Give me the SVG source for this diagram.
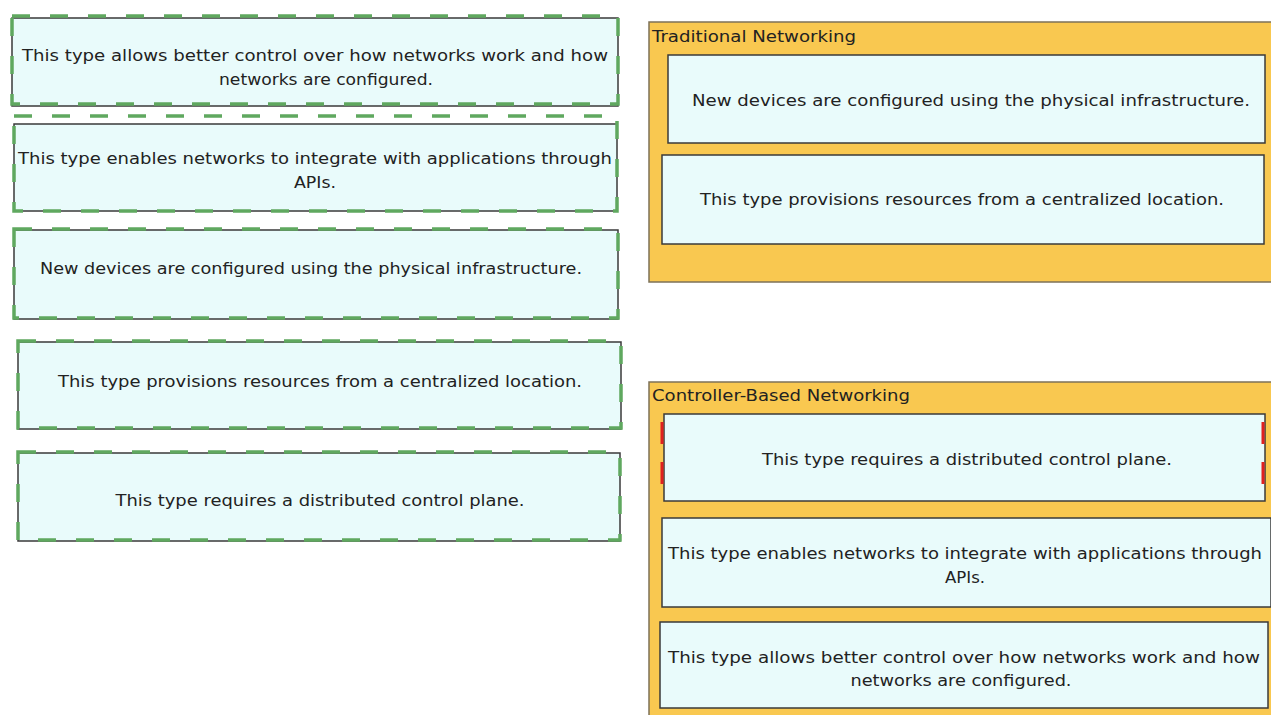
<svg xmlns="http://www.w3.org/2000/svg" width="1271" height="715" viewBox="0 0 1271 715">
<style>
.card{fill:#e9fbfb;stroke:#3a3a3a;stroke-width:1.5}
.dash{fill:none;stroke:#5fa85f;stroke-width:3.5;stroke-dasharray:18 20}
.panel{fill:#f9c850;stroke:#7d7258;stroke-width:1.5}
.t{font-family:"DejaVu Sans",Verdana,sans-serif;font-size:16px;fill:#222;text-anchor:middle}
.h{font-family:"DejaVu Sans",Verdana,sans-serif;font-size:16px;fill:#222}
.red{fill:none;stroke:#e02020;stroke-width:3;stroke-dasharray:22 18}
</style>
<rect width="1271" height="715" fill="#ffffff"/>
<g id="src1">
<rect class="card" x="12" y="18" width="606" height="88"/>
<rect class="dash" x="12" y="16" width="606" height="88"/>
<text class="t" x="315" y="61" textLength="586" lengthAdjust="spacingAndGlyphs">This type allows better control over how networks work and how</text>
<text class="t" x="326" y="85" textLength="214" lengthAdjust="spacingAndGlyphs">networks are configured.</text>
</g>
<g id="src2">
<rect class="card" x="14" y="124" width="603" height="87"/>
<rect class="dash" x="14" y="116" width="603" height="95"/>
<text class="t" x="315" y="164" textLength="594" lengthAdjust="spacingAndGlyphs">This type enables networks to integrate with applications through</text>
<text class="t" x="315" y="188" textLength="42" lengthAdjust="spacingAndGlyphs">APIs.</text>
</g>
<g id="src3">
<rect class="card" x="14" y="230" width="604" height="89"/>
<rect class="dash" x="14" y="229" width="604" height="89"/>
<text class="t" x="311" y="274" textLength="542" lengthAdjust="spacingAndGlyphs">New devices are configured using the physical infrastructure.</text>
</g>
<g id="src4">
<rect class="card" x="18" y="342" width="603" height="87"/>
<rect class="dash" x="18" y="341" width="603" height="87"/>
<text class="t" x="320" y="387" textLength="524" lengthAdjust="spacingAndGlyphs">This type provisions resources from a centralized location.</text>
</g>
<g id="src5">
<rect class="card" x="18" y="453" width="602" height="88"/>
<rect class="dash" x="18" y="452" width="602" height="88"/>
<text class="t" x="320" y="506" textLength="409" lengthAdjust="spacingAndGlyphs">This type requires a distributed control plane.</text>
</g>
<g id="traditional">
<rect class="panel" x="649" y="22" width="624" height="260"/>
<text class="h" x="652" y="42" textLength="204" lengthAdjust="spacingAndGlyphs">Traditional Networking</text>
<rect class="card" x="668" y="55" width="597" height="88"/>
<text class="t" x="971" y="106" textLength="558" lengthAdjust="spacingAndGlyphs">New devices are configured using the physical infrastructure.</text>
<rect class="card" x="662" y="155" width="602" height="89"/>
<text class="t" x="962" y="205" textLength="524" lengthAdjust="spacingAndGlyphs">This type provisions resources from a centralized location.</text>
</g>
<g id="controller">
<rect class="panel" x="649" y="382" width="624" height="335"/>
<text class="h" x="652" y="401" textLength="258" lengthAdjust="spacingAndGlyphs">Controller-Based Networking</text>
<rect class="card" x="664" y="414" width="601" height="87"/>
<line class="red" x1="662" y1="422" x2="662" y2="500"/>
<line class="red" x1="1263" y1="422" x2="1263" y2="500"/>
<text class="t" x="967" y="465" textLength="410" lengthAdjust="spacingAndGlyphs">This type requires a distributed control plane.</text>
<rect class="card" x="662" y="518" width="609" height="89"/>
<text class="t" x="965" y="559" textLength="594" lengthAdjust="spacingAndGlyphs">This type enables networks to integrate with applications through</text>
<text class="t" x="965" y="583" textLength="40" lengthAdjust="spacingAndGlyphs">APIs.</text>
<rect class="card" x="660" y="622" width="608" height="86"/>
<text class="t" x="964" y="663" textLength="592" lengthAdjust="spacingAndGlyphs">This type allows better control over how networks work and how</text>
<text class="t" x="961" y="686" textLength="221" lengthAdjust="spacingAndGlyphs">networks are configured.</text>
</g>
</svg>
